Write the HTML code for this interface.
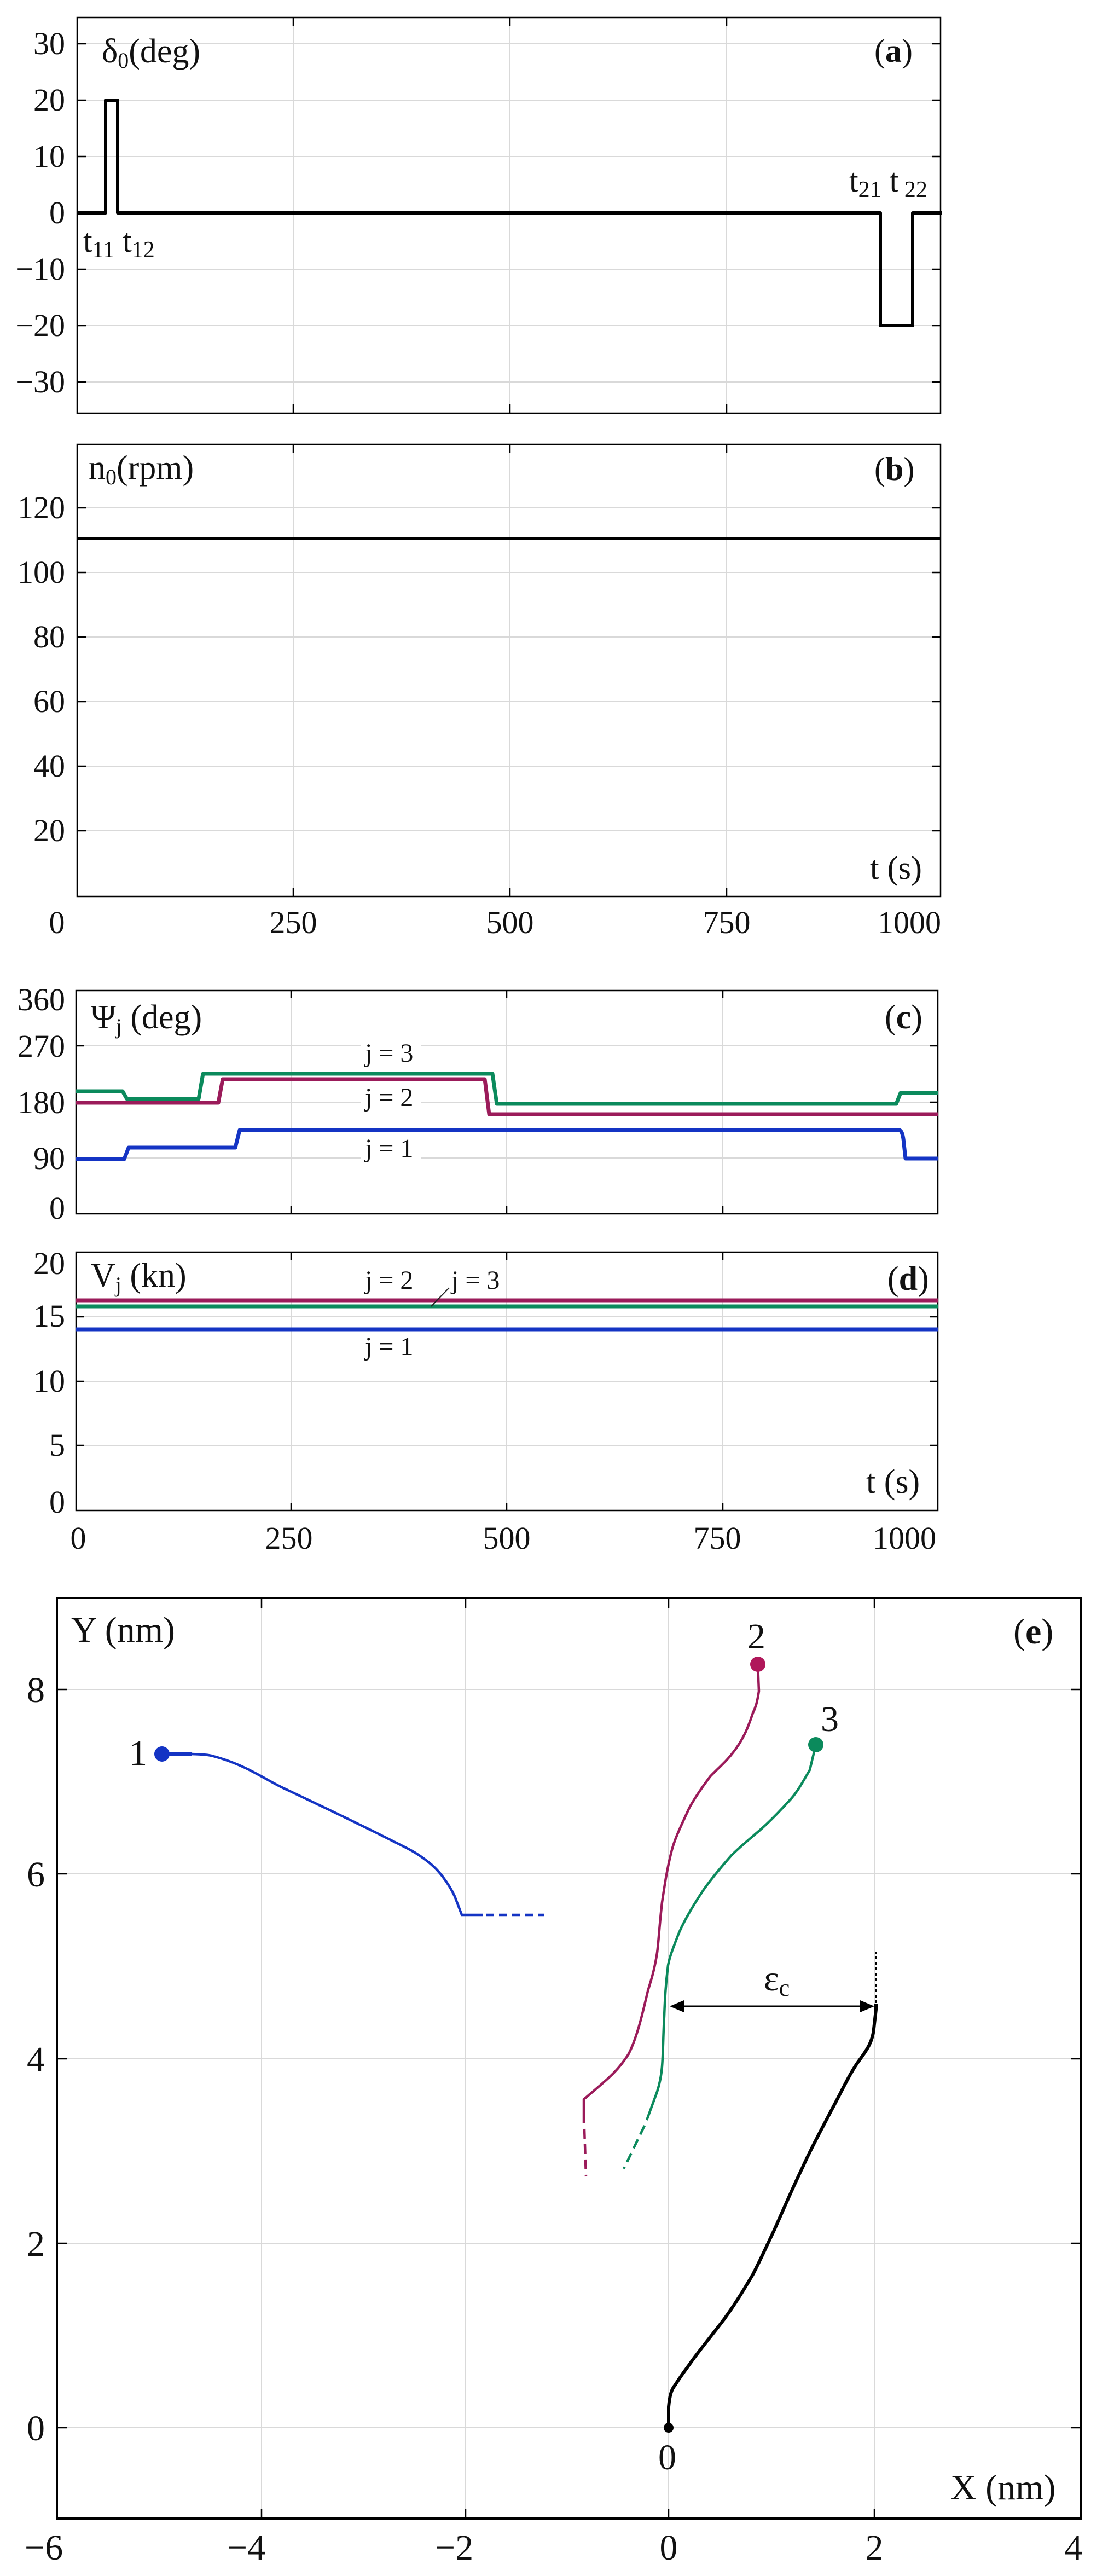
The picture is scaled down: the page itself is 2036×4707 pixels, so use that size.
<!DOCTYPE html>
<html><head><meta charset="utf-8"><style>
html,body{margin:0;padding:0;background:#fff}
svg{display:block}
text{font-family:"Liberation Serif",serif;fill:#111}
</style></head><body>
<svg width="2036" height="4707" viewBox="0 0 2036 4707" xmlns="http://www.w3.org/2000/svg">
<rect width="2036" height="4707" fill="#fff"/>
<!-- ===== Plot a ===== -->
<g stroke="#d9d9d9" stroke-width="2">
<line x1="536" y1="32" x2="536" y2="755"/><line x1="932" y1="32" x2="932" y2="755"/><line x1="1328" y1="32" x2="1328" y2="755"/>
<line x1="141" y1="80" x2="1719" y2="80"/><line x1="141" y1="183" x2="1719" y2="183"/><line x1="141" y1="286" x2="1719" y2="286"/>
<line x1="141" y1="492" x2="1719" y2="492"/><line x1="141" y1="595" x2="1719" y2="595"/><line x1="141" y1="698" x2="1719" y2="698"/>
</g>
<rect x="141" y="32" width="1578" height="723" fill="none" stroke="#000" stroke-width="2.5"/>
<g stroke="#000" stroke-width="2.5">
<path d="M141,80h16M141,183h16M141,286h16M141,389h16M141,492h16M141,595h16M141,698h16"/>
<path d="M1719,80h-16M1719,183h-16M1719,286h-16M1719,389h-16M1719,492h-16M1719,595h-16M1719,698h-16"/>
<path d="M536,32v16M932,32v16M1328,32v16M536,755v-16M932,755v-16M1328,755v-16"/>
</g>
<path d="M141,389 H193 V183 H215 V389 H1609 V595 H1668 V389 H1721" fill="none" stroke="#000" stroke-width="6" stroke-linejoin="round"/>
<g font-size="58" text-anchor="end">
<text x="119" y="99">30</text><text x="119" y="202">20</text><text x="119" y="305">10</text><text x="119" y="408">0</text>
<text x="119" y="511">−10</text><text x="119" y="614">−20</text><text x="119" y="717">−30</text>
</g>
<text x="186" y="114" font-size="62">δ<tspan font-size="40" dy="10">0</tspan><tspan dy="-10">(deg)</tspan></text>
<text x="1598" y="113" font-size="60">(<tspan font-weight="bold">a</tspan>)</text>
<text x="152" y="460" font-size="60">t<tspan font-size="42" dy="10">11</tspan><tspan dy="-10"> t</tspan><tspan font-size="42" dy="10">12</tspan></text>
<text x="1552" y="350" font-size="60">t<tspan font-size="42" dy="10">21</tspan><tspan dy="-10"> t</tspan><tspan font-size="42" dy="10"> 22</tspan></text>
<!-- ===== Plot b ===== -->
<g stroke="#d9d9d9" stroke-width="2">
<line x1="536" y1="812" x2="536" y2="1638"/><line x1="932" y1="812" x2="932" y2="1638"/><line x1="1328" y1="812" x2="1328" y2="1638"/>
<line x1="141" y1="928" x2="1719" y2="928"/><line x1="141" y1="1046" x2="1719" y2="1046"/><line x1="141" y1="1164" x2="1719" y2="1164"/>
<line x1="141" y1="1282" x2="1719" y2="1282"/><line x1="141" y1="1400" x2="1719" y2="1400"/><line x1="141" y1="1518" x2="1719" y2="1518"/>
</g>
<rect x="141" y="812" width="1578" height="826" fill="none" stroke="#000" stroke-width="2.5"/>
<g stroke="#000" stroke-width="2.5">
<path d="M141,928h16M141,1046h16M141,1164h16M141,1282h16M141,1400h16M141,1518h16"/>
<path d="M1719,928h-16M1719,1046h-16M1719,1164h-16M1719,1282h-16M1719,1400h-16M1719,1518h-16"/>
<path d="M536,812v16M932,812v16M1328,812v16M536,1638v-16M932,1638v-16M1328,1638v-16"/>
</g>
<line x1="141" y1="984" x2="1719" y2="984" stroke="#000" stroke-width="6"/>
<g font-size="58" text-anchor="end">
<text x="119" y="947">120</text><text x="119" y="1065">100</text><text x="119" y="1183">80</text>
<text x="119" y="1301">60</text><text x="119" y="1419">40</text><text x="119" y="1537">20</text>
</g>
<text x="162" y="875" font-size="62">n<tspan font-size="40" dy="10">0</tspan><tspan dy="-10">(rpm)</tspan></text>
<text x="1598" y="877" font-size="60">(<tspan font-weight="bold">b</tspan>)</text>
<text x="1590" y="1606" font-size="60">t (s)</text>
<g font-size="58" text-anchor="middle">
<text x="104" y="1705">0</text><text x="536" y="1705">250</text><text x="932" y="1705">500</text><text x="1328" y="1705">750</text>
<text x="1720" y="1705" text-anchor="end">1000</text>
</g>
<!-- ===== Plot c ===== -->
<g stroke="#d9d9d9" stroke-width="2">
<line x1="532" y1="1810" x2="532" y2="2218"/><line x1="926" y1="1810" x2="926" y2="2218"/><line x1="1321" y1="1810" x2="1321" y2="2218"/>
<line x1="139" y1="1911" x2="1714" y2="1911"/><line x1="139" y1="2014" x2="1714" y2="2014"/><line x1="139" y1="2116" x2="1714" y2="2116"/>
</g>
<rect x="139" y="1810" width="1575" height="408" fill="none" stroke="#000" stroke-width="2.5"/>
<g stroke="#000" stroke-width="2.5">
<path d="M139,1911h14M139,2014h14M139,2116h14M1714,1911h-14M1714,2014h-14M1714,2116h-14"/>
<path d="M532,1810v14M926,1810v14M1321,1810v14M532,2218v-14M926,2218v-14M1321,2218v-14"/>
</g>
<g fill="none" stroke-width="7" stroke-linejoin="round">
<path d="M139,1994 H224 L232,2008 H363 L371,1962 H900 L908,2017 H1638 L1646,1997 H1714" stroke="#0b8a5c"/>
<path d="M139,2015 H399 L407,1972 H886 L894,2036 H1714" stroke="#9b1b5a"/>
<path d="M139,2118 H227 L235,2097 H430 L438,2065 H1643 Q1650,2065 1652,2090 L1655,2117 H1714" stroke="#1434c4"/>
</g>
<g fill="#fff"><rect x="660" y="1888" width="110" height="52"/><rect x="660" y="1978" width="110" height="50"/><rect x="660" y="2073" width="110" height="50"/></g>
<g font-size="48">
<text x="667" y="1940">j = 3</text><text x="667" y="2021">j = 2</text><text x="667" y="2114">j = 1</text>
</g>
<g font-size="58" text-anchor="end">
<text x="119" y="1846">360</text><text x="119" y="1931">270</text><text x="119" y="2034">180</text>
<text x="119" y="2136">90</text><text x="119" y="2227">0</text>
</g>
<text x="166" y="1879" font-size="62">Ψ<tspan font-size="40" dy="10">j</tspan><tspan dy="-10"> (deg)</tspan></text>
<text x="1617" y="1879" font-size="62">(<tspan font-weight="bold">c</tspan>)</text>
<!-- ===== Plot d ===== -->
<g stroke="#d9d9d9" stroke-width="2">
<line x1="532" y1="2288" x2="532" y2="2760"/><line x1="926" y1="2288" x2="926" y2="2760"/><line x1="1321" y1="2288" x2="1321" y2="2760"/>
<line x1="139" y1="2406" x2="1714" y2="2406"/><line x1="139" y1="2524" x2="1714" y2="2524"/><line x1="139" y1="2641" x2="1714" y2="2641"/>
</g>
<rect x="139" y="2288" width="1575" height="472" fill="none" stroke="#000" stroke-width="2.5"/>
<g stroke="#000" stroke-width="2.5">
<path d="M139,2406h14M139,2524h14M139,2641h14M1714,2406h-14M1714,2524h-14M1714,2641h-14"/>
<path d="M532,2288v14M926,2288v14M1321,2288v14M532,2760v-14M926,2760v-14M1321,2760v-14"/>
</g>
<g stroke-width="7">
<line x1="139" y1="2376" x2="1714" y2="2376" stroke="#9b1b5a"/>
<line x1="139" y1="2387" x2="1714" y2="2387" stroke="#0b8a5c"/>
<line x1="139" y1="2429" x2="1714" y2="2429" stroke="#1434c4"/>
</g>
<line x1="821" y1="2353" x2="788" y2="2387" stroke="#222" stroke-width="2"/>
<g font-size="48">
<text x="667" y="2355">j = 2</text><text x="825" y="2355">j = 3</text><text x="667" y="2476">j = 1</text>
</g>
<g font-size="58" text-anchor="end">
<text x="119" y="2328">20</text><text x="119" y="2424">15</text><text x="119" y="2543">10</text>
<text x="119" y="2660">5</text><text x="119" y="2764">0</text>
</g>
<text x="166" y="2351" font-size="62">V<tspan font-size="40" dy="10">j</tspan><tspan dy="-10"> (kn)</tspan></text>
<text x="1622" y="2357" font-size="62">(<tspan font-weight="bold">d</tspan>)</text>
<text x="1583" y="2728" font-size="62">t (s)</text>
<g font-size="58" text-anchor="middle">
<text x="143" y="2830">0</text><text x="528" y="2830">250</text><text x="926" y="2830">500</text><text x="1311" y="2830">750</text>
<text x="1711" y="2830" text-anchor="end">1000</text>
</g>
<!-- ===== Plot e ===== -->
<g stroke="#d9d9d9" stroke-width="2">
<line x1="478" y1="2920" x2="478" y2="4602"/><line x1="851" y1="2920" x2="851" y2="4602"/><line x1="1222" y1="2920" x2="1222" y2="4602"/><line x1="1598" y1="2920" x2="1598" y2="4602"/>
<line x1="104" y1="3087" x2="1975" y2="3087"/><line x1="104" y1="3424" x2="1975" y2="3424"/><line x1="104" y1="3762" x2="1975" y2="3762"/><line x1="104" y1="4099" x2="1975" y2="4099"/><line x1="104" y1="4436" x2="1975" y2="4436"/>
</g>
<rect x="104" y="2920" width="1871" height="1682" fill="none" stroke="#000" stroke-width="4"/>
<g stroke="#000" stroke-width="2.5">
<path d="M104,3087h18M104,3424h18M104,3762h18M104,4099h18M104,4436h18"/>
<path d="M1975,3087h-18M1975,3424h-18M1975,3762h-18M1975,4099h-18M1975,4436h-18"/>
<path d="M478,2920v18M851,2920v18M1222,2920v18M1598,2920v18M478,4602v-18M851,4602v-18M1222,4602v-18M1598,4602v-18"/>
</g>
<!-- blue -->
<path d="M296,3205 L351,3205 C370,3206 380,3206 390,3209 C420,3217 445,3228 467,3240 C490,3252 505,3262 526,3271 L610,3311 L688,3349 C725,3368 748,3378 766,3390 C785,3403 795,3412 805,3424 C818,3440 825,3452 831,3465 L844,3499 H883" fill="none" stroke="#1434c4" stroke-width="4.5"/>
<line x1="296" y1="3205" x2="351" y2="3205" stroke="#1434c4" stroke-width="8"/>
<line x1="888" y1="3499" x2="995" y2="3499" stroke="#1434c4" stroke-width="4.5" stroke-dasharray="14,10"/>
<circle cx="296" cy="3205" r="14" fill="#1434c4"/>
<!-- magenta -->
<path d="M1385,3041 L1387,3090 C1384,3110 1381,3120 1376,3130 C1366,3160 1360,3172 1350,3188 C1330,3218 1315,3228 1298,3246 C1280,3270 1270,3285 1260,3303 C1243,3340 1233,3360 1227,3384 C1218,3420 1214,3450 1210,3476 C1205,3520 1204,3545 1201,3568 C1196,3600 1191,3615 1184,3638 C1172,3690 1163,3725 1149,3753 C1135,3775 1123,3787 1110,3799 C1092,3815 1080,3825 1067,3836 L1067,3880" fill="none" stroke="#9b1b5a" stroke-width="4.5"/>
<line x1="1068" y1="3890" x2="1071" y2="3977" stroke="#9b1b5a" stroke-width="4.5" stroke-dasharray="18,10"/>
<circle cx="1385" cy="3041" r="14" fill="#b0175a"/>
<!-- green -->
<path d="M1491,3188 L1480,3234 C1465,3260 1455,3278 1441,3292 C1420,3315 1405,3330 1389,3344 C1368,3362 1352,3375 1337,3390 C1315,3415 1300,3433 1286,3453 C1268,3480 1250,3510 1240,3534 C1230,3560 1224,3575 1221,3591 C1216,3630 1215,3660 1214,3684 C1212,3720 1212,3750 1210,3776 C1208,3800 1203,3818 1197,3833 L1182,3874" fill="none" stroke="#0b8a5c" stroke-width="4.5"/>
<line x1="1178" y1="3884" x2="1140" y2="3963" stroke="#0b8a5c" stroke-width="4.5" stroke-dasharray="18,10"/>
<circle cx="1491" cy="3188" r="14" fill="#0b8a5c"/>
<!-- black -->
<path d="M1222,4436 L1222,4398 C1224,4375 1228,4365 1234,4358 C1245,4340 1255,4328 1266,4312 C1290,4280 1305,4262 1324,4237 C1345,4208 1360,4183 1376,4156 C1392,4125 1403,4100 1415,4075 C1435,4030 1450,3995 1467,3960 C1485,3920 1502,3890 1519,3857 C1540,3818 1555,3785 1571,3764 C1585,3745 1595,3730 1597,3707 L1601,3672 L1601,3662" fill="none" stroke="#000" stroke-width="6"/>
<line x1="1601" y1="3660" x2="1601" y2="3566" stroke="#000" stroke-width="4" stroke-dasharray="5,5"/>
<circle cx="1222" cy="4436" r="9" fill="#000"/>
<!-- arrow -->
<line x1="1240" y1="3666" x2="1580" y2="3666" stroke="#000" stroke-width="3"/>
<path d="M1224,3666 L1250,3655 L1250,3677 Z" fill="#000"/>
<path d="M1598,3666 L1572,3655 L1572,3677 Z" fill="#000"/>
<text x="1396" y="3637" font-size="66">ε<tspan font-size="44" dy="10">c</tspan></text>
<!-- e labels -->
<g font-size="66">
<text x="130" y="3000">Y (nm)</text>
<text x="1737" y="4567">X (nm)</text>
<text x="1852" y="3003">(<tspan font-weight="bold">e</tspan>)</text>
<text x="236" y="3225">1</text>
<text x="1366" y="3012">2</text>
<text x="1500" y="3163">3</text>
<text x="1203" y="4512">0</text>
</g>
<g font-size="66" text-anchor="end">
<text x="82" y="3110">8</text><text x="82" y="3447">6</text><text x="82" y="3785">4</text><text x="82" y="4122">2</text><text x="82" y="4459">0</text>
</g>
<g font-size="66" text-anchor="middle">
<text x="80" y="4677">−6</text><text x="450" y="4677">−4</text><text x="830" y="4677">−2</text><text x="1222" y="4677">0</text><text x="1598" y="4677">2</text><text x="1962" y="4677">4</text>
</g>
</svg>
</body></html>
